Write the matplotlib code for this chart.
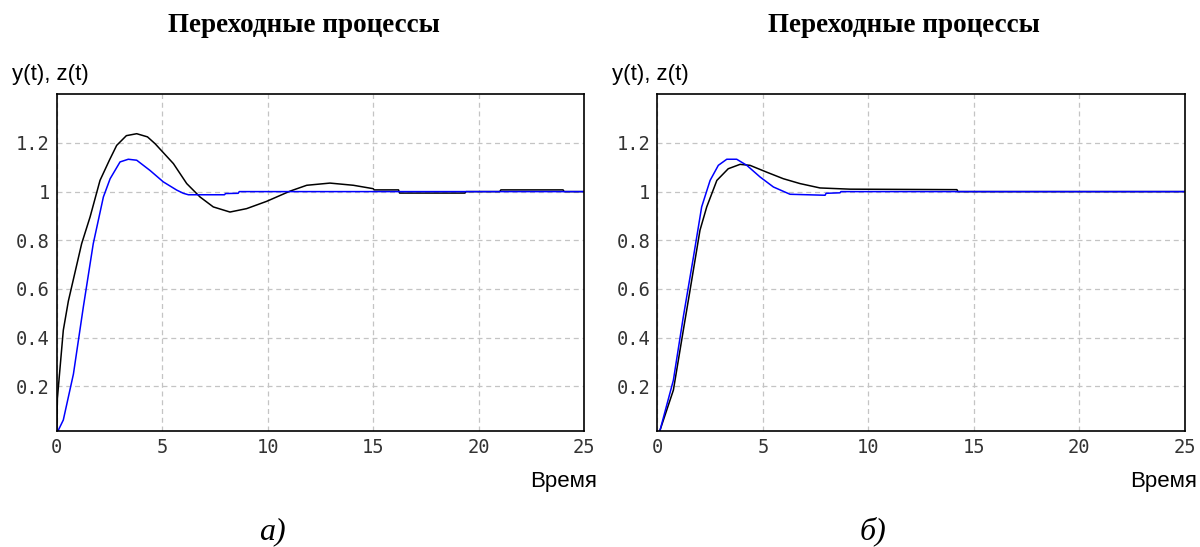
import matplotlib.pyplot as plt

# --- data ---
# a) left panel
ta_y = [0, 0.03, 0.1, 0.31, 0.55, 0.79, 1.18, 1.58, 2.05, 2.5, 2.84, 3.3, 3.79, 4.3,
        4.66, 5.53, 6.16, 6.79, 7.42, 8.21, 9.0, 9.95, 11.06, 11.85, 12.95, 14.06,
        15.0, 15.05, 16.2, 16.25, 19.35, 19.4, 21.0, 21.05, 24.0, 24.05, 25]
ya = [0.02, 0.15, 0.22, 0.43, 0.55, 0.64, 0.786, 0.896, 1.046, 1.13, 1.19, 1.23,
      1.238, 1.225, 1.197, 1.115, 1.033, 0.978, 0.937, 0.916, 0.93, 0.96, 1.002,
      1.026, 1.035, 1.026, 1.012, 1.007, 1.007, 0.994, 0.994, 1.0, 1.0, 1.007,
      1.007, 1.0, 1.0]
ta_z = [0, 0.08, 0.31, 0.79, 1.26, 1.73, 2.21, 2.53, 3.0, 3.39, 3.79, 4.42, 5.05,
        5.69, 6.0, 6.24, 7.95, 8.0, 8.6, 8.65, 25]
za = [0.0, 0.02, 0.061, 0.25, 0.526, 0.786, 0.978, 1.053, 1.122, 1.133, 1.129,
      1.087, 1.04, 1.006, 0.993, 0.987, 0.987, 0.992, 0.993, 1.0, 1.0]

# б) right panel
tb_y = [0, 0.13, 0.76, 1.23, 1.55, 2.02, 2.34, 2.82, 3.36, 3.92, 4.39, 5.18, 5.97,
        6.76, 7.71, 9.13, 14.2, 14.25, 25]
yb = [0.0, 0.02, 0.184, 0.43, 0.595, 0.841, 0.937, 1.046, 1.094, 1.112, 1.108,
      1.08, 1.053, 1.033, 1.015, 1.01, 1.008, 1.0, 1.0]
tb_z = [0, 0.13, 0.76, 1.23, 1.71, 2.1, 2.5, 2.89, 3.29, 3.76, 4.24, 4.87, 5.5,
        6.29, 7.95, 8.0, 8.66, 8.7, 25]
zb = [0.0, 0.02, 0.225, 0.485, 0.731, 0.937, 1.046, 1.108, 1.133, 1.133, 1.108,
      1.06, 1.019, 0.989, 0.985, 0.993, 0.995, 1.0, 1.0]

xticks = [0, 5, 10, 15, 20, 25]
yticks = [0.2, 0.4, 0.6, 0.8, 1.0, 1.2]
ytick_labels = ["0.2", "0.4", "0.6", "0.8", "1", "1.2"]

title = "Переходные процессы"
ylabel = "y(t), z(t)"
xlabel = "Время"
captions = ["а)", "б)"]

W, H = 1200, 547
fig = plt.figure(figsize=(W / 100, H / 100), dpi=100)

panels = [
  (0.0473, ta_y, ya, ta_z, za),
  (0.5478, tb_y, yb, tb_z, zb),
]

for i, (left, ty, yv, tz, zv) in enumerate(panels):
  ax = fig.add_axes([left, 0.2126, 0.4395, 0.615])
  ax.plot(ty, yv, color='black', lw=1.1)
  ax.plot(tz, zv, color='#0000ff', lw=1.1)
  ax.set_xlim(0, 25)
  ax.set_ylim(0.017, 1.4)
  ax.set_xticks(xticks)
  ax.set_yticks(yticks)
  ax.set_yticklabels(ytick_labels)
  ax.tick_params(length=0, pad=5, labelsize=13.5, labelcolor='#333333')
  for lab in ax.get_xticklabels() + ax.get_yticklabels():
    lab.set_family('DejaVu Sans Mono')
  ax.grid(True, color='#c4c4c4', lw=0.9, linestyle=(0, (4, 3)))
  for sp in ax.spines.values():
    sp.set_color('black')
    sp.set_linewidth(1.2)

  x0 = left * W
  fig.text((x0 + 247) / W, 1 - 32 / H, title, ha='center', va='baseline',
           family='Liberation Serif', weight='bold', fontsize=19.5)
  fig.text((x0 - 45) / W, 1 - 80 / H, ylabel, ha='left', va='baseline',
           family='Liberation Sans', fontsize=16)
  fig.text((x0 + 540) / W, 1 - 487 / H, xlabel, ha='right', va='baseline',
           family='Liberation Sans', fontsize=16)
  fig.text((x0 + 216) / W, 1 - 539 / H, captions[i], ha='center', va='baseline',
           family='Liberation Serif', style='italic', fontsize=23)

fig.savefig('out.png', dpi=100, facecolor='white')
